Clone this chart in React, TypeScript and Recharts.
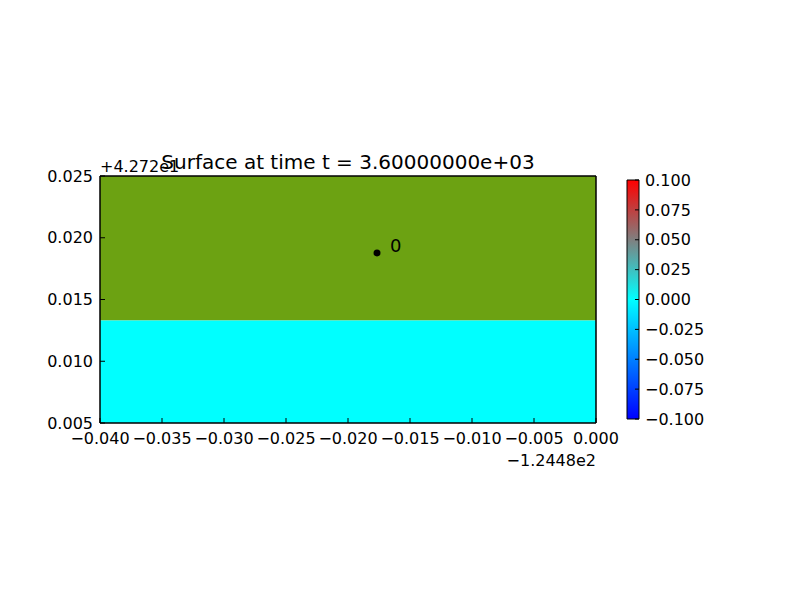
import React from 'react';
import { ComposedChart, XAxis, YAxis, ReferenceArea, Scatter, Bar } from 'recharts';

const xTicks = [-0.04, -0.035, -0.03, -0.025, -0.02, -0.015, -0.01, -0.005, 0];
const yTicks = [0.005, 0.01, 0.015, 0.02, 0.025];
const cbTicks = [-0.1, -0.075, -0.05, -0.025, 0, 0.025, 0.05, 0.075, 0.1];

// surface bands (land above, water below)
const bands = [
  { name: 'land', y1: 0.0133, y2: 0.025 },
  { name: 'water', y1: 0.005, y2: 0.0133 },
];
const bandColors: Record<string, string> = { land: '#6ca212', water: '#00ffff' };

const gauges = [{ x: -0.01766, y: 0.01877, label: '0' }];

const cbData = [{ name: 'surface', range: [-0.1, 0.1] }];

const FONT = 'DejaVu Sans, sans-serif';
const fmt = (v: number) => (v < 0 ? '\u2212' : '') + Math.abs(v).toFixed(3);
const tickStyle = { fontSize: 16, fill: '#000', fontFamily: FONT };

const GaugeDot = (p: any) => (
  <g>
    <circle cx={p.cx} cy={p.cy} r={3.5} fill="#000" />
    <text x={p.cx + 13} y={p.cy - 1} fontSize={18} fontFamily={FONT} fill="#000">
      {p.payload.label}
    </text>
  </g>
);

export default function App() {
  return (
    <div style={{ position: 'absolute', left: 0, top: 0, width: 800, height: 600, background: '#fff' }}>
      <svg width={0} height={0} style={{ position: 'absolute' }}>
        <defs>
          <linearGradient id="cbar" x1="0" y1="0" x2="0" y2="1">
            <stop offset="0" stopColor="#ff0000" />
            <stop offset="0.5" stopColor="#00ffff" />
            <stop offset="1" stopColor="#0000ff" />
          </linearGradient>
        </defs>
      </svg>
      <div style={{ position: 'absolute', left: 0, top: 0 }}>
        <ComposedChart width={800} height={600} margin={{ top: 175, right: 203, bottom: 176, left: 99 }}>
          <XAxis xAxisId={0} type="number" dataKey="x" domain={[-0.04, 0]} ticks={xTicks} interval={0}
            height={1} tickSize={-5} tickMargin={15} tickFormatter={fmt} tick={tickStyle}
            stroke="#000" allowDataOverflow />
          <XAxis xAxisId="top" orientation="top" type="number" domain={[-0.04, 0]} ticks={xTicks} interval={0}
            height={1} tickSize={-5} tick={false} stroke="#000" />
          <YAxis yAxisId={0} type="number" dataKey="y" domain={[0.005, 0.025]} ticks={yTicks} interval={0}
            width={1} tickSize={-5} tickMargin={12} tickFormatter={fmt} tick={tickStyle}
            stroke="#000" allowDataOverflow />
          <YAxis yAxisId="right" orientation="right" type="number" domain={[0.005, 0.025]} ticks={yTicks} interval={0}
            width={1} tickSize={-5} tick={false} stroke="#000" />
          {bands.map((b) => (
            <ReferenceArea key={b.name} xAxisId={0} yAxisId={0} x1={-0.04} x2={0} y1={b.y1} y2={b.y2}
              fill={bandColors[b.name]} fillOpacity={1} stroke="none" ifOverflow="visible" />
          ))}
          <ReferenceArea xAxisId={0} yAxisId={0} x1={-0.04} x2={0} y1={0.005} y2={0.025}
            fill="none" stroke="#000" strokeWidth={1} />
          <Scatter xAxisId={0} yAxisId={0} data={gauges} dataKey="y" shape={GaugeDot} isAnimationActive={false} />
        </ComposedChart>
      </div>
      <div style={{ position: 'absolute', left: 0, top: 0 }}>
        <ComposedChart width={800} height={600} data={cbData} barCategoryGap={0}
          margin={{ top: 180, right: 160, bottom: 181, left: 627 }}>
          <XAxis dataKey="name" type="category" hide />
          <YAxis orientation="right" type="number" domain={[-0.1, 0.1]} ticks={cbTicks} interval={0}
            width={1} tickSize={-4} tickMargin={10} tickFormatter={fmt} tick={tickStyle}
            stroke="#000" axisLine={false} />
          <Bar dataKey="range" fill="url(#cbar)" stroke="#000" strokeWidth={1} isAnimationActive={false} />
        </ComposedChart>
      </div>
      <svg width={800} height={600} style={{ position: 'absolute', left: 0, top: 0, pointerEvents: 'none' }}>
        <text x={348} y={169} textAnchor="middle" fontSize={20} fontFamily={FONT} fill="#000">
          Surface at time t = 3.60000000e+03
        </text>
        <text x={100} y={172} fontSize={16} fontFamily={FONT} fill="#000">+4.272e1</text>
        <text x={596} y={466} textAnchor="end" fontSize={16} fontFamily={FONT} fill="#000">{'\u2212'}1.2448e2</text>
      </svg>
    </div>
  );
}
